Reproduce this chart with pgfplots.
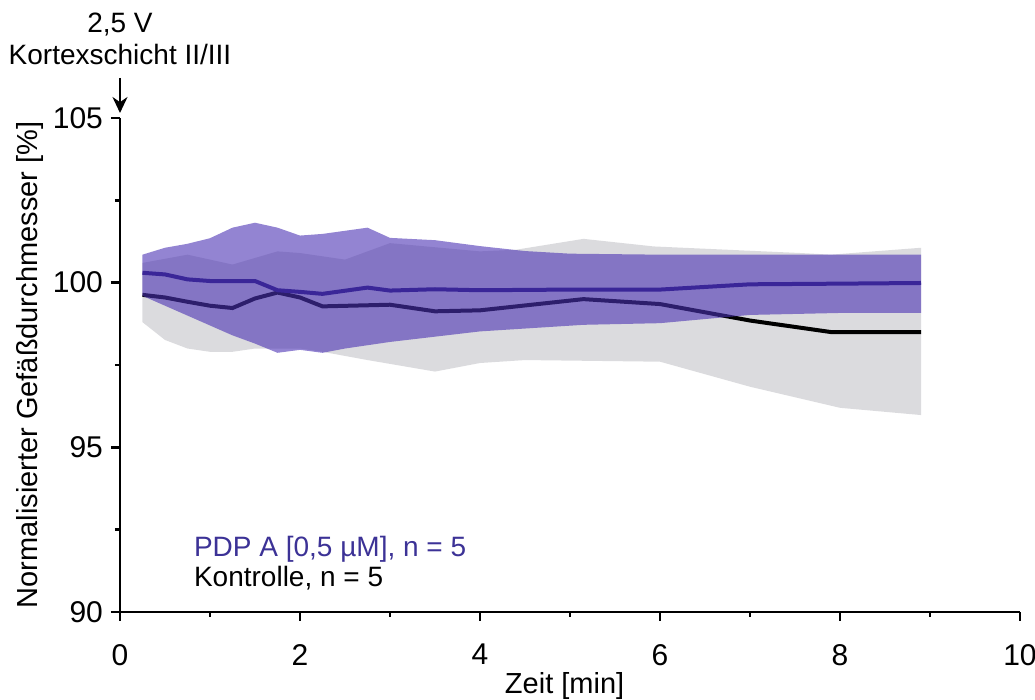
\documentclass[border=0pt]{standalone}
\usepackage{fontspec}
\setmainfont{Liberation Sans}
\usepackage{pgfplots}
\pgfplotsset{compat=1.18}
\usetikzlibrary{arrows.meta}
\definecolor{bandgrey}{RGB}{219,219,222}
\definecolor{bandpurple}{RGB}{75,50,180}
\definecolor{linepurple}{RGB}{58,38,152}
\definecolor{textpurple}{RGB}{60,50,150}
\begin{document}
\begin{tikzpicture}
\begin{axis}[
  at={(0,0)}, anchor=south west,
  scale only axis, width=450pt, height=247pt,
  xmin=0, xmax=10, ymin=90, ymax=105,
  axis x line*=bottom, axis y line*=left,
  axis line style={line width=1.2pt},
  xtick={0,2,4,6,8,10}, minor xtick={1,3,5,7,9},
  ytick={90,95,100,105}, minor ytick={92.5,97.5,102.5},
  tick align=outside,
  major tick length=4.5pt, minor tick length=2.5pt,
  tick style={line width=1.2pt, black},
  ticklabel style={font=\fontsize{15}{17}\selectfont},
  xticklabel style={yshift=-8pt},
  yticklabel style={xshift=-0.5pt},
  /pgf/number format/assume math mode=true,
  /pgf/number format/1000 sep={},
  xlabel={Zeit [min]},
  ylabel={Normalisierter Gefäßdurchmesser [\%]},
  label style={font=\fontsize{14.5}{16}\selectfont},
  xlabel style={at={(axis description cs:0.494,0)}, anchor=center, yshift=-37pt},
  ylabel style={at={(axis description cs:-0.1,0.5)}, anchor=center},
  clip=false,
]
% grey band (Kontrolle SEM)
\addplot[fill=bandgrey, draw=none] coordinates {
 (0.25,100.6) (0.75,100.85) (1.25,100.55) (1.75,100.95) (2.0,100.9) (2.5,100.7)
 (3.0,101.2) (4.0,100.95) (4.4,101.0) (5.15,101.33) (5.93,101.1) (7.56,100.9)
 (7.9,100.85) (8.9,101.06)
 (8.9,95.98) (8.0,96.2) (7.0,96.84) (6.0,97.6) (4.5,97.65) (4.0,97.56) (3.5,97.3)
 (2.75,97.65) (2.25,97.9) (2.0,98.0) (1.5,98.0) (1.25,97.9) (1.0,97.9) (0.75,98.0)
 (0.5,98.26) (0.25,98.8)
} -- cycle;
% Kontrolle mean
\addplot[black, line width=2pt] coordinates {
 (0.25,99.63) (0.5,99.55) (0.75,99.42) (1.0,99.3) (1.25,99.23) (1.5,99.52)
 (1.75,99.70) (2.0,99.55) (2.25,99.28) (3.0,99.33) (3.5,99.13) (4.0,99.16)
 (5.15,99.5) (6.0,99.35) (7.0,98.85) (7.9,98.5) (8.9,98.5)
};
% purple band (PDP A SEM)
\addplot[fill=bandpurple, fill opacity=0.6, draw=none] coordinates {
 (0.25,100.85) (0.5,101.06) (0.75,101.18) (1.0,101.35) (1.25,101.67) (1.5,101.82)
 (1.75,101.67) (2.0,101.43) (2.25,101.48) (2.75,101.67) (3.0,101.36) (3.5,101.29)
 (4.0,101.11) (4.5,100.96) (5.0,100.88) (6.0,100.85) (7.0,100.85) (8.9,100.85)
 (8.9,99.08) (8.0,99.08) (7.0,99.02) (6.0,98.77) (5.15,98.72) (4.0,98.52)
 (3.5,98.36) (3.0,98.2) (2.5,98.0) (2.25,97.87) (2.0,97.96) (1.75,97.87)
 (1.5,98.15) (1.25,98.4) (1.0,98.7) (0.75,99.0) (0.5,99.3) (0.25,99.6)
} -- cycle;
% PDP A mean
\addplot[linepurple, line width=2pt] coordinates {
 (0.25,100.3) (0.5,100.25) (0.75,100.1) (1.0,100.05) (1.5,100.05) (1.75,99.77)
 (2.0,99.72) (2.25,99.66) (2.75,99.85) (3.0,99.76) (3.5,99.8) (4.0,99.77)
 (5.0,99.79) (6.0,99.79) (7.0,99.95) (8.0,99.97) (8.9,99.99)
};
\end{axis}
\node[anchor=west, text=textpurple, font=\fontsize{14}{16}\selectfont] at (33.5pt,31.5pt) {PDP A [0,5 µM], n = 5};
\node[anchor=west, text=black, font=\fontsize{14}{16}\selectfont] at (33.5pt,17pt) {Kontrolle, n = 5};
\node[font=\fontsize{14}{16}\selectfont] at (0pt,293.5pt) {2,5 V};
\node[font=\fontsize{14}{16}\selectfont] at (0pt,278.5pt) {Kortexschicht II/III};
\draw[line width=1.2pt, -{Stealth[length=8pt,width=7.5pt]}] (0pt,267pt) -- (0pt,249.5pt);
\pgfresetboundingbox
\path (-60pt,-44pt) rectangle (457.5pt,306pt);
\end{tikzpicture}
\end{document}
